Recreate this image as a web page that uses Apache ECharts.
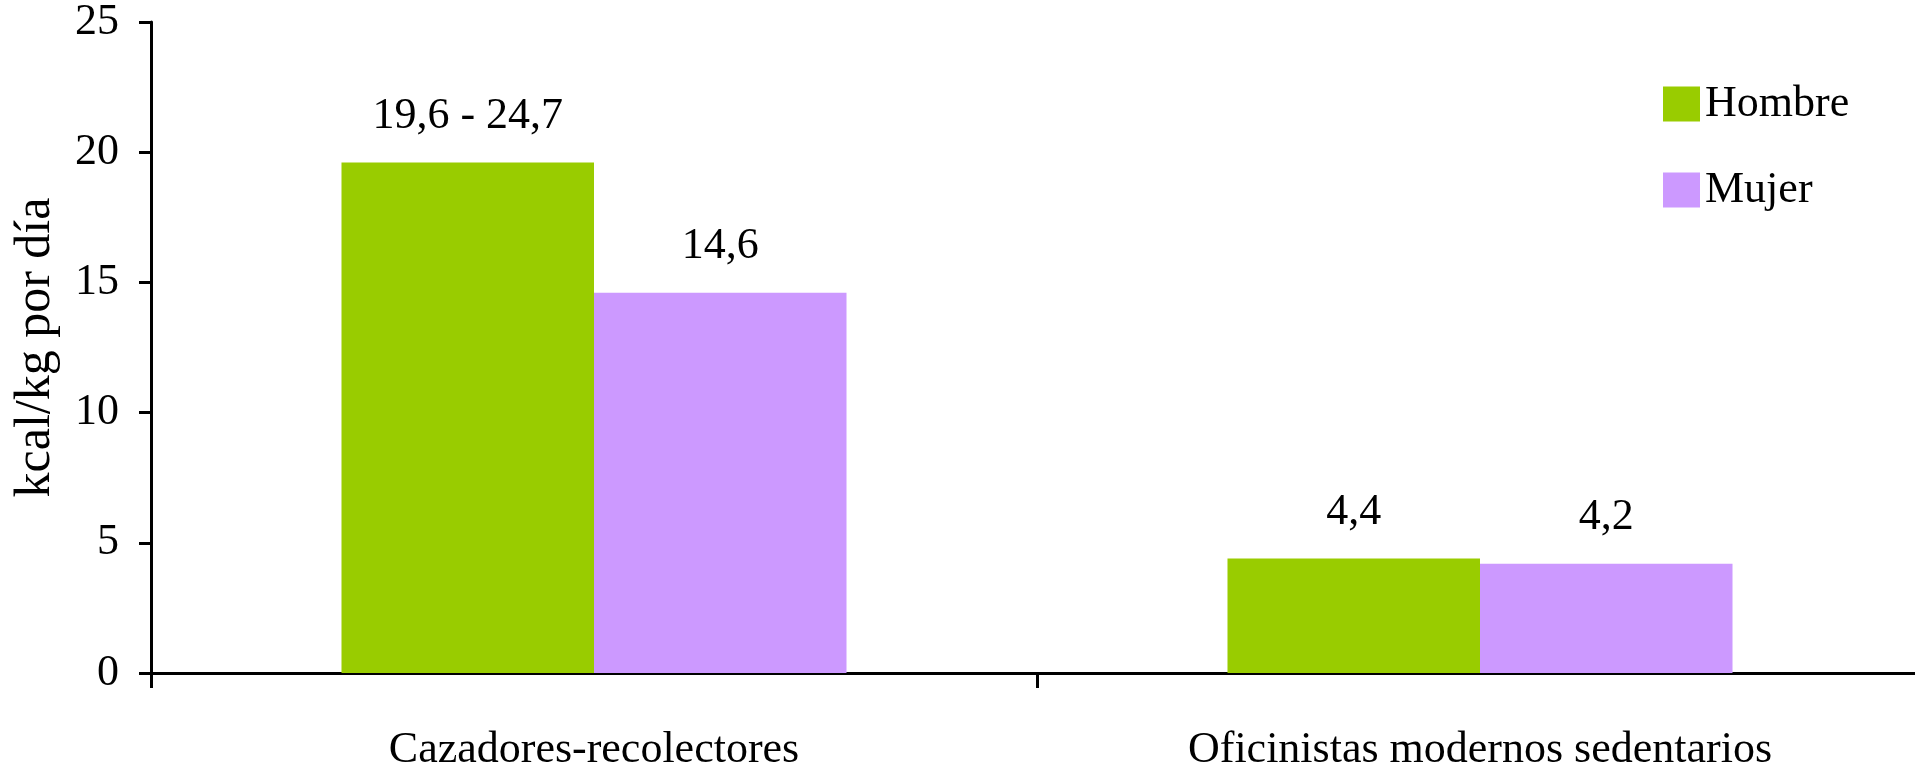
<!DOCTYPE html>
<html>
<head>
<meta charset="utf-8">
<script src="https://cdn.jsdelivr.net/npm/echarts@6/dist/echarts.min.js"></script>
<style>
  html, body { margin: 0; padding: 0; background: #fff; }
  #chart { width: 1915px; height: 768px; }
</style>
</head>
<body>
<div id="chart"></div>
<script>
// datos
const categorias = ['Cazadores-recolectores', 'Oficinistas modernos sedentarios']
const hombre = [19.6, 4.4]
const mujer = [14.6, 4.2]
const etiquetasHombre = ['19,6 - 24,7', '4,4']
const etiquetasMujer = ['14,6', '4,2']
const yTicks = [0, 5, 10, 15, 20, 25]

const fuente = '"Liberation Serif", "Times New Roman", serif'

let chart = echarts.init(document.getElementById('chart'))

function conEtiquetas (valores, etiquetas) {
  return valores.map((v, i) => ({ value: v, label: { formatter: etiquetas[i] } }))
}

chart.setOption({
  animation: false,
  textStyle: { fontFamily: fuente, color: '#000' },
  legend: {
    orient: 'vertical',
    left: 1658,
    top: 77,
    itemWidth: 37,
    itemHeight: 35,
    itemGap: 42,
    icon: 'rect',
    textStyle: { fontFamily: fuente, fontSize: 44, color: '#000' },
    data: ['Hombre', 'Mujer']
  },
  grid: { left: 151, right: -8, top: 22, bottom: 95, containLabel: false, outerBoundsMode: 'none' },
  xAxis: {
    type: 'category',
    data: categorias,
    axisLine: { lineStyle: { color: '#000', width: 3 } },
    axisTick: { show: true, length: 15, lineStyle: { color: '#000', width: 3 } },
    axisLabel: { fontFamily: fuente, fontSize: 44, color: '#000', margin: 55 }
  },
  yAxis: {
    type: 'value',
    min: yTicks[0],
    max: yTicks[yTicks.length - 1],
    interval: 5,
    name: 'kcal/kg por día',
    nameLocation: 'middle',
    nameRotate: 90,
    nameGap: 90,
    nameTextStyle: { fontFamily: fuente, fontSize: 50, color: '#000' },
    splitLine: { show: false },
    axisLine: { show: true, lineStyle: { color: '#000', width: 3 } },
    axisTick: { show: true, length: 12, lineStyle: { color: '#000', width: 3 } },
    axisLabel: { fontFamily: fuente, fontSize: 44, color: '#000', margin: 32 }
  },
  series: [
    {
      name: 'Hombre',
      type: 'bar',
      barGap: '0%',
      barCategoryGap: '43%',
      itemStyle: { color: '#99cc00' },
      label: { show: true, position: 'top', distance: 24, fontFamily: fuente, fontSize: 44, color: '#000' },
      data: conEtiquetas(hombre, etiquetasHombre)
    },
    {
      name: 'Mujer',
      type: 'bar',
      barGap: '0%',
      barCategoryGap: '43%',
      itemStyle: { color: '#cc99ff' },
      label: { show: true, position: 'top', distance: 24, fontFamily: fuente, fontSize: 44, color: '#000' },
      data: conEtiquetas(mujer, etiquetasMujer)
    }
  ]
})
</script>
</body>
</html>
